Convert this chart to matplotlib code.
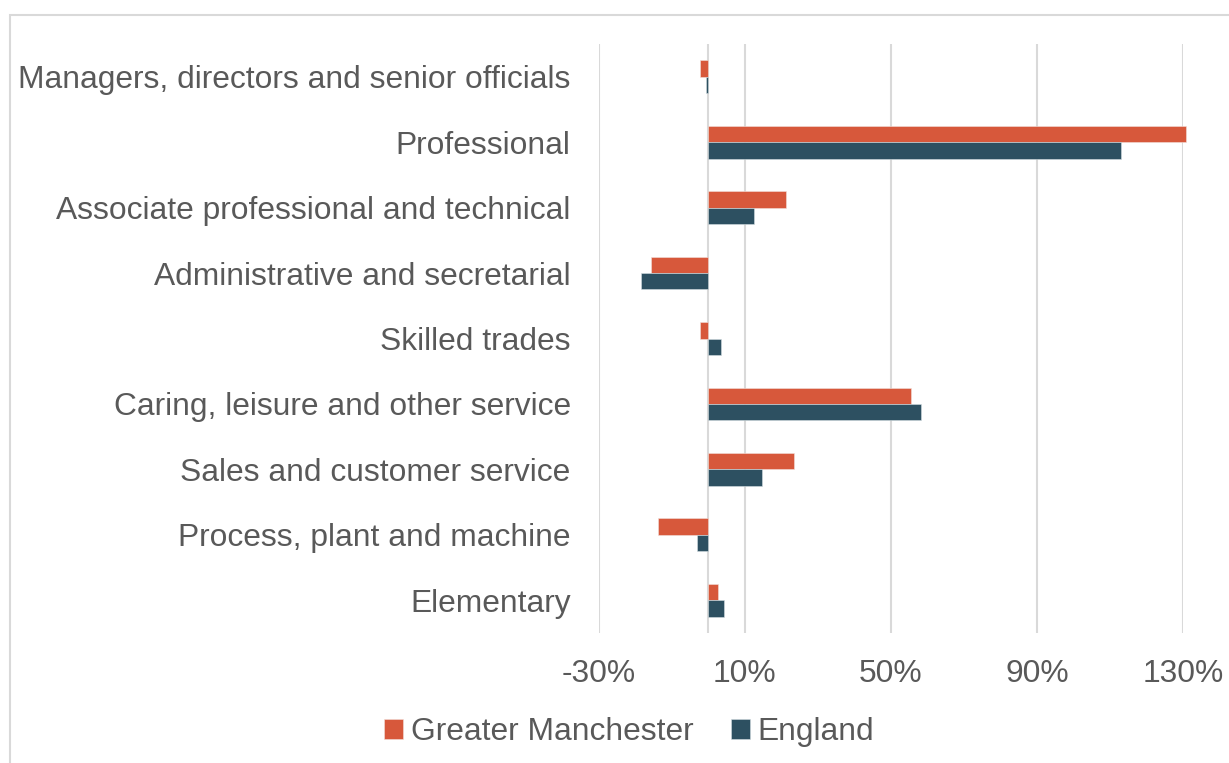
import numpy as np
import matplotlib
matplotlib.use("Agg")
import matplotlib.pyplot as plt
from matplotlib.patches import Rectangle

plt.rcParams['font.family'] = ['Liberation Sans', 'DejaVu Sans']

# data (% change)
categories = ["Managers, directors and senior officials",
              "Professional",
              "Associate professional and technical",
              "Administrative and secretarial",
              "Skilled trades",
              "Caring, leisure and other service",
              "Sales and customer service",
              "Process, plant and machine",
              "Elementary"]
greater_manchester = [-2.2, 130.8, 21.3, -15.5, -2.3, 55.6, 23.5, -13.6, 2.7]
england = [-0.5, 113.0, 12.6, -18.5, 3.5, 58.2, 14.7, -3.0, 4.4]
xticks = [-30, 10, 50, 90, 130]

gm_color = "#D7583B"
en_color = "#2D5061"
text_color = "#595959"
grid_color = "#D9D9D9"

#canvas
fig = plt.figure(figsize=(12.29, 7.63), dpi=100, facecolor="white")
ax = fig.add_axes([598.5/1229, 1-633/763, (1183-598.5)/1229, (633-44)/763])

y = np.arange(len(categories))
h = 0.25
b1 = ax.barh(y - h/2, greater_manchester, height=h, color=gm_color, label="Greater Manchester",
             edgecolor="#F2E0DB", linewidth=0.4, zorder=3)
b2 = ax.barh(y + h/2, england, height=h, color=en_color, label="England",
             edgecolor="#D5DEE2", linewidth=0.4, zorder=3)
for p in list(b1) + list(b2):
    p.set_clip_on(False)

ax.set_xlim(-30, 130)
ax.set_ylim(len(categories) - 0.5, -0.5)

ax.set_xticks(xticks)
ax.set_xticklabels([f"{v}%" for v in xticks])
ax.set_yticks(y)
ax.set_yticklabels(categories)
ax.tick_params(axis="both", length=0, labelsize=22.9, labelcolor=text_color)
ax.tick_params(axis="y", pad=20)
ax.tick_params(axis="x", pad=19)

for v in xticks:
    ax.axvline(v, color=grid_color, linewidth=1.5, zorder=1)
ax.axvline(0, color=grid_color, linewidth=1.5, zorder=2)

for s in ax.spines.values():
    s.set_visible(False)

#legend
fig.legend(loc="center", bbox_to_anchor=(0.512, 1-732/763), ncol=2, frameon=False,
           fontsize=22.9, labelcolor=text_color, handlelength=0.6, handleheight=0.6,
           handletextpad=0.25, columnspacing=1.15)

#chart border
fig.patches.append(Rectangle((9.5/1229, -0.05), 1.2, 1.05 - 15.5/763, transform=fig.transFigure,
                             fill=False, edgecolor=grid_color, linewidth=1.5))

fig.savefig("out.png", dpi=100, facecolor="white")
